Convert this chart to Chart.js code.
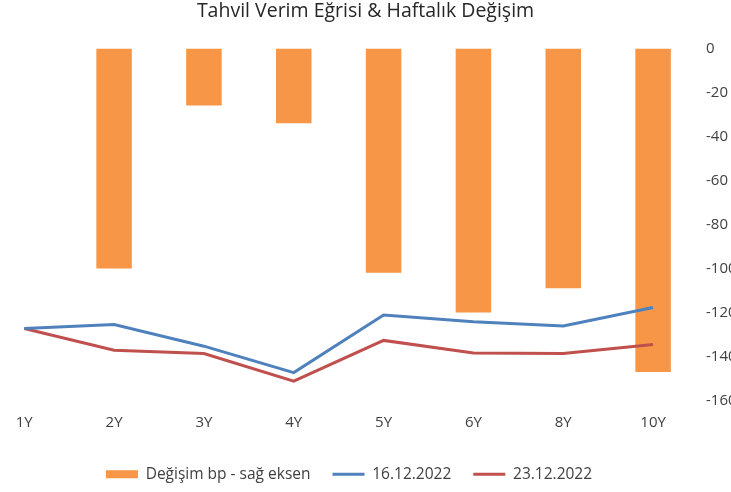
<!DOCTYPE html>
<html lang="tr">
<head>
<meta charset="utf-8">
<title>Tahvil Verim Eğrisi</title>
<script src="https://cdn.jsdelivr.net/npm/chart.js@4/dist/chart.umd.min.js"></script>
<style>
    html, body { margin: 0; padding: 0; background: #fff; }
    #wrap { width: 731px; height: 492px; overflow: hidden; }
</style>
</head>
<body>
<div id="wrap"><canvas id="grafik" width="731" height="492"></canvas></div>
<script>
// Vadeler ve seriler
const vadeler = ["1Y", "2Y", "3Y", "4Y", "5Y", "6Y", "8Y", "10Y"];
const degisimBp = [0, -100, -26, -34, -102, -120, -109, -147];
const verim1612 = [8.86, 9.02, 8.16, 7.11, 9.40, 9.13, 8.96, 9.70];
const verim2312 = [8.86, 8.00, 7.87, 6.77, 8.39, 7.89, 7.87, 8.23];
const sagEksenTicks = [0, -20, -40, -60, -80, -100, -120, -140, -160];

const renkler = {
    turuncu: "#F79646",
    mavi: "#4F81BD",
    kirmizi: "#C0504D"
};

Chart.defaults.font.family = '"Open Sans", "DejaVu Sans", sans-serif';
Chart.defaults.color = "#404040";

// x degerleri: vade sirasina gore
const noktalar = (seri) => seri.map((v, i) => ({ x: i, y: v }));

const ctx = document.getElementById("grafik").getContext("2d");

new Chart(ctx, {
    data: {
        datasets: [
            {
                type: "bar",
                label: "Değişim bp - sağ eksen",
                data: noktalar(degisimBp),
                backgroundColor: renkler.turuncu,
                borderWidth: 0,
                yAxisID: "ySag",
                pointStyle: "rect",
                barPercentage: 0.395,
                categoryPercentage: 1,
                order: 2
            },
            {
                type: "line",
                label: "16.12.2022",
                data: noktalar(verim1612),
                borderColor: renkler.mavi,
                backgroundColor: renkler.mavi,
                borderWidth: 3,
                pointRadius: 0,
                pointStyle: "line",
                tension: 0,
                yAxisID: "ySol",
                order: 1
            },
            {
                type: "line",
                label: "23.12.2022",
                data: noktalar(verim2312),
                borderColor: renkler.kirmizi,
                backgroundColor: renkler.kirmizi,
                borderWidth: 3,
                pointRadius: 0,
                pointStyle: "line",
                tension: 0,
                yAxisID: "ySol",
                order: 1
            }
        ]
    },
    options: {
        responsive: false,
        animation: false,
        layout: { padding: 0 },
        scales: {
            x: {
                type: "linear",
                offset: false,
                min: -0.27,
                max: 7.5,
                grid: { display: false, drawTicks: false, offset: false },
                border: { display: false },
                afterBuildTicks: (axis) => {
                    axis.ticks = vadeler.map((_, i) => ({ value: i }));
                },
                ticks: {
                    padding: 13,
                    font: { size: 15 },
                    callback: (value) => vadeler[value]
                }
            },
            ySol: {
                type: "linear",
                position: "left",
                display: false,
                min: 6,
                max: 20
            },
            ySag: {
                type: "linear",
                position: "right",
                min: -160,
                max: 0,
                grid: { display: false, drawTicks: false },
                border: { display: false },
                afterBuildTicks: (axis) => {
                    axis.ticks = sagEksenTicks.map(v => ({ value: v }));
                },
                afterFit: (axis) => {
                    axis.width = 33;
                },
                ticks: {
                    padding: 8,
                    font: { size: 15 }
                }
            }
        },
        plugins: {
            title: {
                display: true,
                text: "Tahvil Verim Eğrisi & Haftalık Değişim",
                color: "#262626",
                font: { size: 19.5, weight: "normal" },
                padding: { top: 0, bottom: 25 }
            },
            legend: {
                position: "bottom",
                fullSize: false,
                labels: {
                    usePointStyle: true,
                    pointStyleWidth: 32,
                    boxHeight: 8,
                    padding: 22,
                    color: "#404040",
                    font: { size: 15.5 },
                    sort: (a, b) => a.datasetIndex - b.datasetIndex
                }
            },
            tooltip: { enabled: false }
        }
    }
});
</script>
</body>
</html>
